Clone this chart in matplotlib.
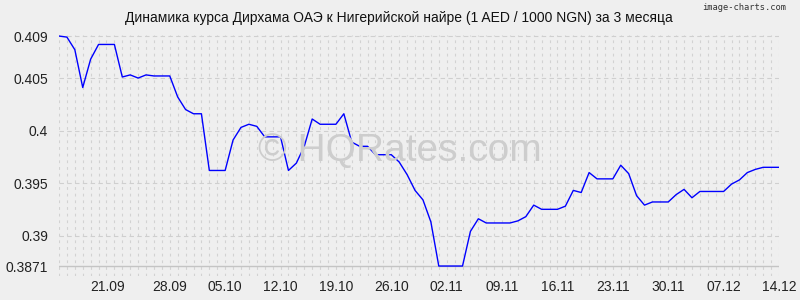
import matplotlib
matplotlib.use("Agg")
import matplotlib.pyplot as plt
import matplotlib.transforms as mtransforms
import pandas as pd

start_date = "2020-09-14"
rates = [
    0.4090, 0.4089, 0.4077, 0.4041, 0.4068, 0.4082, 0.4082, 0.4082, 0.4051, 0.4053,
    0.4050, 0.4053, 0.4052, 0.4052, 0.4052, 0.4032, 0.4020, 0.4016, 0.4016, 0.3962,
    0.3962, 0.3962, 0.3991, 0.4003, 0.4006, 0.4004, 0.3994, 0.3994, 0.3994, 0.3962,
    0.3969, 0.3985, 0.4011, 0.4006, 0.4006, 0.4006, 0.4016, 0.3989, 0.3985, 0.3985,
    0.3977, 0.3977, 0.3977, 0.3970, 0.3958, 0.3943, 0.3934, 0.3913, 0.3871, 0.3871,
    0.3871, 0.3871, 0.3904, 0.3916, 0.3912, 0.3912, 0.3912, 0.3912, 0.3914, 0.3918,
    0.3929, 0.3925, 0.3925, 0.3925, 0.3928, 0.3943, 0.3941, 0.3960, 0.3954, 0.3954,
    0.3954, 0.3967, 0.3959, 0.3938, 0.3929, 0.3932, 0.3932, 0.3932, 0.3939, 0.3944,
    0.3936, 0.3942, 0.3942, 0.3942, 0.3942, 0.3949, 0.3953, 0.3960, 0.3963, 0.3965,
    0.3965, 0.3965,
]
x_tick_labels = ["21.09", "28.09", "05.10", "12.10", "19.10", "26.10", "02.11",
                 "09.11", "16.11", "23.11", "30.11", "07.12", "14.12"]
y_ticks = [0.3871, 0.39, 0.395, 0.4, 0.405, 0.409]
y_tick_labels = ["0.3871", "0.39", "0.395", "0.4", "0.405", "0.409"]
title = "Динамика курса Дирхама ОАЭ к Нигерийской найре (1 AED / 1000 NGN) за 3 месяца"

dates = pd.date_range(start_date, periods=len(rates), freq="D")
labels_all = [d.strftime("%d.%m") for d in dates]
tick_dates = [dates[labels_all.index(l)] for l in x_tick_labels]

bg = "#efefef"
plt.rcParams["font.family"] = ["Liberation Sans", "DejaVu Sans"]
fig = plt.figure(figsize=(8, 3), dpi=100, facecolor=bg)
ax = fig.add_axes([59/800, 1-276/300, 720/800, 241/300])
ax.set_facecolor(bg)

# vertical daily grid
for d in dates:
    ax.axvline(d, color="#d2d2d2", lw=0.8, ls=(0, (2.5, 3.5)), zorder=1)
for yv in y_ticks:
    if yv == y_ticks[0]:
        ax.axhline(yv, color="#c4c4c4", lw=1.0, zorder=1)
    else:
        ax.axhline(yv, color="#cfcfcf", lw=0.8, ls=(0, (4, 3)), zorder=1)

fig.text(400/800, 1-161/300, "© HQRates.com", fontsize=28, color="#cdcdcd",
         ha="center", va="baseline", zorder=0)

ax.plot(dates, rates, color="#0000ff", lw=1.0, zorder=3)

ax.set_xlim(dates[0], dates[-1])
ax.set_ylim(0.38615, 0.40910)
ax.set_xticks(tick_dates)
ax.set_xticklabels(x_tick_labels, fontsize=10, color="#222222")
ax.set_yticks(y_ticks)
ax.set_yticklabels(y_tick_labels, fontsize=10, color="#222222")
ax.tick_params(axis="both", length=0)
ax.tick_params(axis="y", pad=8)
ax.tick_params(axis="x", pad=3)
for s in ax.spines.values():
    s.set_visible(False)

# first date label is drawn slightly left in the reference
first_lbl = ax.get_xticklabels()[0]
first_lbl.set_transform(first_lbl.get_transform() +
                        mtransforms.ScaledTranslation(-7/100, 0, fig.dpi_scale_trans))

fig.text(399/800, 1-18/300, title, fontsize=10, color="#111111", ha="center", va="center")
fig.text(786/800, 1-7/300, "image-charts.com", fontsize=6.3, color="#333333",
         ha="right", va="center", family="DejaVu Sans Mono")

fig.savefig("out.png", dpi=100, facecolor=bg)
